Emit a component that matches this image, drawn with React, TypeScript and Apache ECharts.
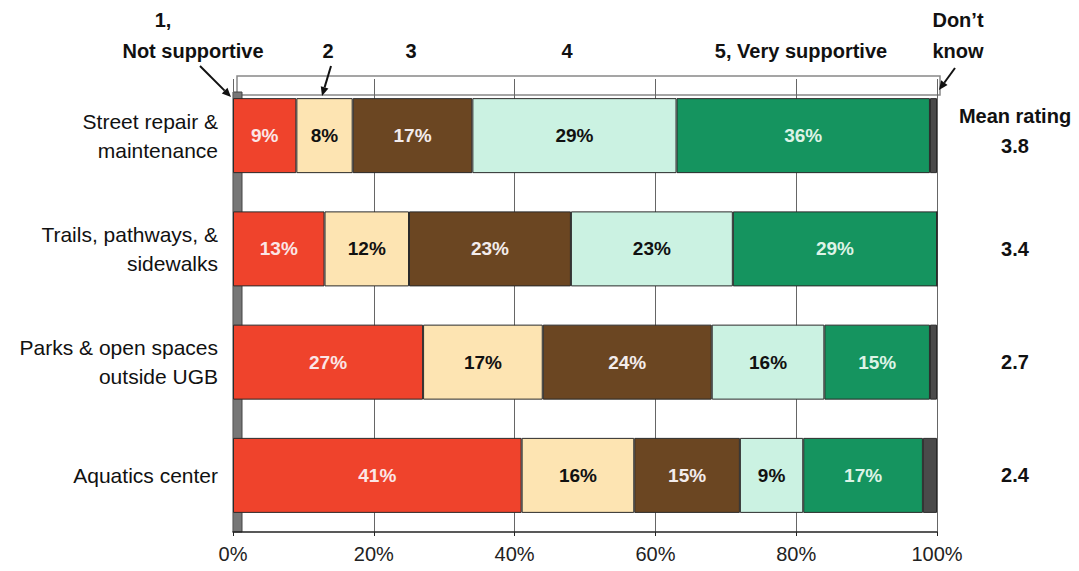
import React, { useEffect, useRef } from "react";
import * as echarts from "echarts";

const categories = [
  "Street repair &\nmaintenance",
  "Trails, pathways, &\nsidewalks",
  "Parks & open spaces\noutside UGB",
  "Aquatics center",
];
const seriesNames = ["1, Not supportive", "2", "3", "4", "5, Very supportive", "Don't know"];
const rating1 = [9, 13, 27, 41];
const rating2 = [8, 12, 17, 16];
const rating3 = [17, 23, 24, 15];
const rating4 = [29, 23, 16, 9];
const rating5 = [36, 29, 15, 17];
const dontKnow = [1, 0, 1, 2];
const meanRatings = ["3.8", "3.4", "2.7", "2.4"];
const xTicks = [0, 20, 40, 60, 80, 100];

const colors = ["#EF432C", "#FDE4B2", "#6B4622", "#CBF2E2", "#15945F", "#4A4A4A"];
const labelColors = ["#FBE6E6", "#111111", "#F3ECEC", "#111111", "#DDF3E6", "#fff"];
const FONT = "'Liberation Sans', Arial, sans-serif";

export default function App() {
  const ref = useRef<HTMLDivElement>(null);
  useEffect(() => {
    const chart = echarts.init(ref.current!, undefined, { renderer: "svg" });
    const all = [rating1, rating2, rating3, rating4, rating5, dontKnow];
    const series = all.map((d, i) => ({
      name: seriesNames[i],
      type: "bar",
      stack: "total",
      barWidth: 75,
      data: d,
      itemStyle: { color: colors[i], borderColor: "#2a2a2a", borderWidth: 1 },
      label: {
        show: i < 5,
        position: "inside",
        formatter: (p: any) => (p.value > 0 ? `${p.value}%` : ""),
        color: labelColors[i],
        fontFamily: FONT,
        fontWeight: "bold",
        fontSize: 19,
      },
    }));

    const arrow = (x1: number, y1: number, x2: number, y2: number) => {
      const len = Math.hypot(x2 - x1, y2 - y1);
      const dx = (x2 - x1) / len, dy = (y2 - y1) / len;
      const bx = x2 - 9 * dx, by = y2 - 9 * dy;
      const px = -dy, py = dx;
      return [
        { type: "line", shape: { x1, y1, x2: bx, y2: by }, style: { stroke: "#111", lineWidth: 2 }, z: 10 },
        {
          type: "polygon",
          shape: { points: [[x2, y2], [bx + 4 * px, by + 4 * py], [bx - 4 * px, by - 4 * py]] },
          style: { fill: "#111" },
          z: 10,
        },
      ];
    };

    const headerStyle = (text: string, x: number, y: number) => ({
      type: "text",
      x,
      y,
      style: {
        text,
        fontFamily: FONT,
        fontWeight: "bold",
        fontSize: 20,
        fill: "#111",
        textAlign: "center",
        textVerticalAlign: "middle",
      },
      z: 10,
    });

    const option: any = {
      animation: false,
      grid: { left: 233, right: 142, top: 79, bottom: 39, containLabel: false },
      xAxis: {
        type: "value",
        min: 0,
        max: 100,
        interval: 20,
        axisLine: { show: true, lineStyle: { color: "#222", width: 1.5 } },
        axisTick: { show: true, length: 4, lineStyle: { color: "#222" } },
        splitLine: { show: true, lineStyle: { color: "#666", width: 1 } },
        axisLabel: {
          formatter: "{value}%",
          fontFamily: FONT,
          fontSize: 20,
          color: "#222",
          margin: 12,
          customValues: xTicks,
        },
      },
      yAxis: [
        {
          type: "category",
          data: categories,
          inverse: true,
          axisLine: { show: false },
          axisTick: { show: false },
          axisLabel: {
            fontFamily: FONT,
            fontSize: 21,
            color: "#111",
            align: "right",
            margin: 15,
            lineHeight: 29,
          },
        },
        {
          type: "category",
          data: meanRatings,
          inverse: true,
          position: "right",
          axisLine: { show: false },
          axisTick: { show: false },
          axisLabel: {
            align: "center",
            margin: 78,
            fontFamily: FONT,
            fontSize: 20,
            fontWeight: "bold",
            color: "#111",
            lineHeight: 30,
            rich: { s: { lineHeight: 10, fontSize: 1 } },
            formatter: (v: string, i: number) => (i === 0 ? `Mean rating\n${v}\n{s| }` : v),
          },
        },
      ],
      series,
      graphic: [
        {
          type: "rect",
          shape: { x: 237, y: 76, width: 703, height: 19 },
          style: { fill: "#fff", stroke: "#888", lineWidth: 1.5 },
          z: 0,
        },
        {
          type: "rect",
          shape: { x: 233, y: 92, width: 9, height: 440 },
          style: { fill: "#777", stroke: "#444", lineWidth: 1 },
          z: 0,
        },
        ...arrow(200, 66, 231, 97),
        ...arrow(331, 66, 322, 96),
        ...arrow(955, 68, 939, 90),
        headerStyle("1,", 163, 20),
        headerStyle("Not supportive", 193, 51),
        headerStyle("2", 328, 51),
        headerStyle("3", 411, 51),
        headerStyle("4", 567, 51),
        headerStyle("5, Very supportive", 801, 51),
        headerStyle("Don\u2019t", 958, 20),
        headerStyle("know", 958, 51),
      ],
    };
    chart.setOption(option);
    return () => chart.dispose();
  }, []);
  return <div ref={ref} style={{ width: 1079, height: 571, margin: -8, background: "#fff" }} />;
}
